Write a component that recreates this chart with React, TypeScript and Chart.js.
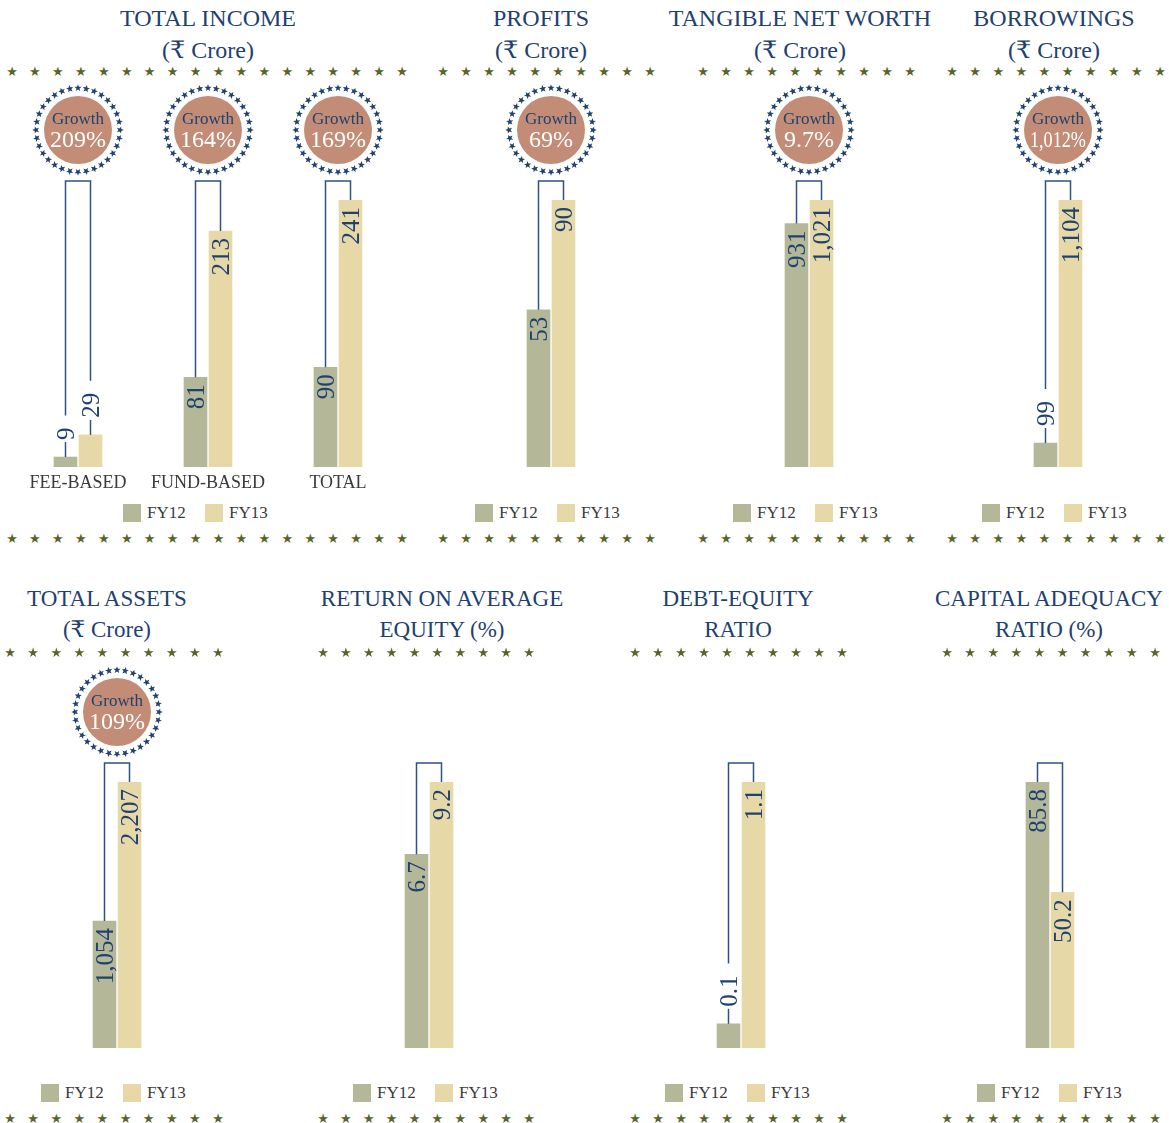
import React, { useEffect, useRef } from "react";
import { Chart, registerables } from "chart.js";

Chart.register(...registerables);

// ---------- data ----------
const seriesNames = ["FY12", "FY13"];

const incomeCategories = ["FEE-BASED", "FUND-BASED", "TOTAL"];
const incomeFY12 = [9, 81, 90];
const incomeFY13 = [29, 213, 241];
const incomeGrowth = ["209%", "164%", "169%"];

const profitsFY12 = [53];
const profitsFY13 = [90];
const profitsGrowth = ["69%"];

const netWorthFY12 = [931];
const netWorthFY13 = [1021];
const netWorthGrowth = ["9.7%"];

const borrowingsFY12 = [99];
const borrowingsFY13 = [1104];
const borrowingsGrowth = ["1,012%"];

const assetsFY12 = [1054];
const assetsFY13 = [2207];
const assetsGrowth = ["109%"];

const roaeFY12 = [6.7];
const roaeFY13 = [9.2];

const debtEquityFY12 = [0.1];
const debtEquityFY13 = [1.1];

const carFY12 = [85.8];
const carFY13 = [50.2];

// ---------- styles ----------
const NAVY = "#1f416f";
const LINE = "#2f5282";
const FY12_COLOR = "#b4b898";
const FY13_COLOR = "#e6d9a7";
const BADGE = "#c38c76";
const STAR_OLIVE = "#5b6327";
const TEXT_GREY = "#3a3a3a";
const SERIF = '"Liberation Serif", "DejaVu Serif", serif';

type Row = { top: number; height: number; padTop: number; padBottom: number };
const ROWS: Row[] = [
  { top: 80, height: 420, padTop: 120, padBottom: 33 },
  { top: 660, height: 400, padTop: 122, padBottom: 12 },
];

type Panel = {
  title: string[];
  titleX: number;
  categories: string[];
  fy12: number[];
  fy13: number[];
  growth: string[];
  decimals: number;
  row: number;
  left: number;
  width: number;
  showCategories: boolean;
  legendX: number;
};

const panels: Panel[] = [
  { title: ["TOTAL INCOME", "(₹ Crore)"], titleX: 208, categories: incomeCategories, fy12: incomeFY12, fy13: incomeFY13, growth: incomeGrowth, decimals: 0, row: 0, left: 13, width: 390, showCategories: true, legendX: 123 },
  { title: ["PROFITS", "(₹ Crore)"], titleX: 541, categories: [""], fy12: profitsFY12, fy13: profitsFY13, growth: profitsGrowth, decimals: 0, row: 0, left: 451, width: 200, showCategories: false, legendX: 475 },
  { title: ["TANGIBLE NET WORTH", "(₹ Crore)"], titleX: 800, categories: [""], fy12: netWorthFY12, fy13: netWorthFY13, growth: netWorthGrowth, decimals: 0, row: 0, left: 709, width: 200, showCategories: false, legendX: 733 },
  { title: ["BORROWINGS", "(₹ Crore)"], titleX: 1054, categories: [""], fy12: borrowingsFY12, fy13: borrowingsFY13, growth: borrowingsGrowth, decimals: 0, row: 0, left: 958, width: 200, showCategories: false, legendX: 982 },
  { title: ["TOTAL ASSETS", "(₹ Crore)"], titleX: 107, categories: [""], fy12: assetsFY12, fy13: assetsFY13, growth: assetsGrowth, decimals: 0, row: 1, left: 16.5, width: 200, showCategories: false, legendX: 41 },
  { title: ["RETURN ON AVERAGE", "EQUITY (%)"], titleX: 442, categories: [""], fy12: roaeFY12, fy13: roaeFY13, growth: [], decimals: 1, row: 1, left: 329, width: 200, showCategories: false, legendX: 353 },
  { title: ["DEBT-EQUITY", "RATIO"], titleX: 738, categories: [""], fy12: debtEquityFY12, fy13: debtEquityFY13, growth: [], decimals: 1, row: 1, left: 641, width: 200, showCategories: false, legendX: 665 },
  { title: ["CAPITAL ADEQUACY", "RATIO (%)"], titleX: 1049, categories: [""], fy12: carFY12, fy13: carFY13, growth: [], decimals: 1, row: 1, left: 950, width: 200, showCategories: false, legendX: 977 },
];

// star divider rows: [firstX, lastX, count, y]
const starRows: [number, number, number, number][] = [
  [12, 402, 18, 72], [443, 650, 10, 72], [703, 910, 10, 72], [952, 1160, 10, 72],
  [12, 402, 18, 539], [443, 650, 10, 539], [703, 910, 10, 539], [952, 1160, 10, 539],
  [10, 218, 10, 653], [323, 529, 10, 653], [635, 842, 10, 653], [947, 1155, 10, 653],
  [10, 218, 10, 1119], [323, 529, 10, 1119], [635, 842, 10, 1119], [947, 1155, 10, 1119],
];

function fmt(v: number, d: number) {
  return v.toLocaleString("en-US", { minimumFractionDigits: d, maximumFractionDigits: d });
}

function drawStar(ctx: CanvasRenderingContext2D, cx: number, cy: number, R: number, r: number, rot: number) {
  ctx.beginPath();
  for (let i = 0; i < 10; i++) {
    const rad = i % 2 === 0 ? R : r;
    const a = rot - Math.PI / 2 + (i * Math.PI) / 5;
    const px = cx + rad * Math.cos(a);
    const py = cy + rad * Math.sin(a);
    if (i === 0) ctx.moveTo(px, py);
    else ctx.lineTo(px, py);
  }
  ctx.closePath();
  ctx.fill();
}

function makeOverlay(p: Panel) {
  return {
    id: "overlay",
    afterDatasetsDraw(chart: any) {
      const ctx: CanvasRenderingContext2D = chart.ctx;
      const area = chart.chartArea;
      const m0 = chart.getDatasetMeta(0);
      const m1 = chart.getDatasetMeta(1);
      const connY = area.top - 19;
      const fs = 25;
      const n = chart.data.labels.length;
      ctx.save();
      for (let i = 0; i < n; i++) {
        const bars = [m0.data[i], m1.data[i]];
        const vals = [chart.data.datasets[0].data[i], chart.data.datasets[1].data[i]];
        const starts: number[] = [];
        const xs: number[] = [];
        bars.forEach((bar: any, k: number) => {
          const { x, y, base } = bar.getProps(["x", "y", "base"], true);
          xs.push(x);
          const text = fmt(vals[k], p.decimals);
          ctx.font = `${fs}px ${SERIF}`;
          const w = ctx.measureText(text).width;
          const h = base - y;
          ctx.fillStyle = NAVY;
          ctx.save();
          if (h >= w + 12) {
            ctx.translate(x, y + 7);
            ctx.rotate(-Math.PI / 2);
            ctx.textAlign = "right";
            ctx.textBaseline = "alphabetic";
            ctx.fillText(text, 0, fs * 0.34);
            ctx.restore();
            starts.push(y);
          } else {
            const labelBottom = y - 17;
            ctx.translate(x, labelBottom);
            ctx.rotate(-Math.PI / 2);
            ctx.textAlign = "left";
            ctx.textBaseline = "alphabetic";
            ctx.fillText(text, 0, fs * 0.34);
            ctx.restore();
            ctx.strokeStyle = LINE;
            ctx.lineWidth = 1.5;
            ctx.beginPath();
            ctx.moveTo(x, y);
            ctx.lineTo(x, y - 15);
            ctx.stroke();
            starts.push(labelBottom - w - 12);
          }
        });
        // connector bracket
        ctx.strokeStyle = LINE;
        ctx.lineWidth = 1.5;
        ctx.beginPath();
        ctx.moveTo(xs[0], starts[0]);
        ctx.lineTo(xs[0], connY);
        ctx.lineTo(xs[1], connY);
        ctx.lineTo(xs[1], starts[1]);
        ctx.stroke();

        // growth badge
        const g = p.growth[i];
        if (g) {
          const cx = (xs[0] + xs[1]) / 2;
          const cy = area.top - 70;
          ctx.fillStyle = BADGE;
          ctx.beginPath();
          ctx.arc(cx, cy, 34, 0, Math.PI * 2);
          ctx.fill();
          ctx.fillStyle = NAVY;
          const count = 32;
          for (let s = 0; s < count; s++) {
            const a = -Math.PI / 2 + (s * 2 * Math.PI) / count;
            drawStar(ctx, cx + 42 * Math.cos(a), cy + 42 * Math.sin(a), 3.8, 1.6, a + Math.PI / 2);
          }
          ctx.textAlign = "center";
          ctx.textBaseline = "middle";
          ctx.fillStyle = NAVY;
          ctx.font = `17px ${SERIF}`;
          ctx.fillText("Growth", cx, cy - 10);
          ctx.fillStyle = "#ffffff";
          ctx.font = `24px ${SERIF}`;
          ctx.fillText(g, cx, cy + 11, 56);
        }

        // category label
        if (p.showCategories) {
          ctx.fillStyle = TEXT_GREY;
          ctx.font = `18px ${SERIF}`;
          ctx.textAlign = "center";
          ctx.textBaseline = "middle";
          ctx.fillText(chart.data.labels[i], chart.scales.x.getPixelForValue(i), area.bottom + 16);
        }
      }
      ctx.restore();
    },
  };
}

function BarPanel({ p }: { p: Panel }) {
  const ref = useRef<HTMLCanvasElement>(null);
  const row = ROWS[p.row];
  useEffect(() => {
    const chart = new Chart(ref.current as HTMLCanvasElement, {
      type: "bar",
      data: {
        labels: p.categories,
        datasets: [
          { label: seriesNames[0], data: p.fy12, backgroundColor: FY12_COLOR, barThickness: 25, maxBarThickness: 23 } as any,
          { label: seriesNames[1], data: p.fy13, backgroundColor: FY13_COLOR, barThickness: 25, maxBarThickness: 23 } as any,
        ],
      },
      options: {
        animation: false,
        responsive: false,
        events: [],
        layout: { padding: { top: row.padTop, bottom: row.padBottom, left: 0, right: 0 } },
        plugins: { legend: { display: false }, tooltip: { enabled: false }, title: { display: false } },
        scales: {
          x: { display: false },
          y: { display: false, min: 0, max: Math.max(...p.fy12, ...p.fy13) },
        },
      },
      plugins: [makeOverlay(p)],
    });
    return () => chart.destroy();
  }, []);
  return (
    <canvas
      ref={ref}
      width={p.width}
      height={row.height}
      style={{ position: "absolute", left: p.left, top: row.top, width: p.width, height: row.height }}
    />
  );
}

function Title({ p }: { p: Panel }) {
  const top = p.row === 0 ? 2 : 583;
  const lh = p.row === 0 ? 32 : 31;
  return (
    <div
      style={{
        position: "absolute",
        left: p.titleX - 160,
        width: 320,
        top,
        textAlign: "center",
        fontFamily: SERIF,
        fontSize: p.row === 0 ? 24 : 23,
        lineHeight: `${lh}px`,
        color: NAVY,
        whiteSpace: "nowrap",
      }}
    >
      {p.title.map((t, i) => (
        <div key={i}>{t}</div>
      ))}
    </div>
  );
}

function Legend({ p }: { p: Panel }) {
  const y = p.row === 0 ? 513 : 1093;
  const items = [
    { name: seriesNames[0], color: FY12_COLOR, x: p.legendX },
    { name: seriesNames[1], color: FY13_COLOR, x: p.legendX + 82 },
  ];
  return (
    <>
      {items.map((it) => (
        <React.Fragment key={it.name}>
          <div style={{ position: "absolute", left: it.x, top: y - 9, width: 18, height: 18, background: it.color }} />
          <div
            style={{
              position: "absolute",
              left: it.x + 24,
              top: y - 10,
              fontFamily: SERIF,
              fontSize: 17,
              lineHeight: "20px",
              color: TEXT_GREY,
            }}
          >
            {it.name}
          </div>
        </React.Fragment>
      ))}
    </>
  );
}

function Stars() {
  const out: JSX.Element[] = [];
  starRows.forEach(([x0, x1, n, y], r) => {
    for (let i = 0; i < n; i++) {
      const x = x0 + (i * (x1 - x0)) / (n - 1);
      out.push(
        <div
          key={`${r}-${i}`}
          style={{
            position: "absolute",
            left: x - 7,
            top: y - 8,
            width: 14,
            height: 16,
            fontSize: 13,
            lineHeight: "16px",
            textAlign: "center",
            color: STAR_OLIVE,
            fontFamily: '"DejaVu Sans", sans-serif',
          }}
        >
          ★
        </div>
      );
    }
  });
  return <>{out}</>;
}

export default function App() {
  return (
    <div style={{ position: "absolute", left: 0, top: 0, width: 1169, height: 1123, background: "#ffffff", overflow: "hidden" }}>
      {panels.map((p, i) => (
        <React.Fragment key={i}>
          <Title p={p} />
          <BarPanel p={p} />
          <Legend p={p} />
        </React.Fragment>
      ))}
      <Stars />
    </div>
  );
}
